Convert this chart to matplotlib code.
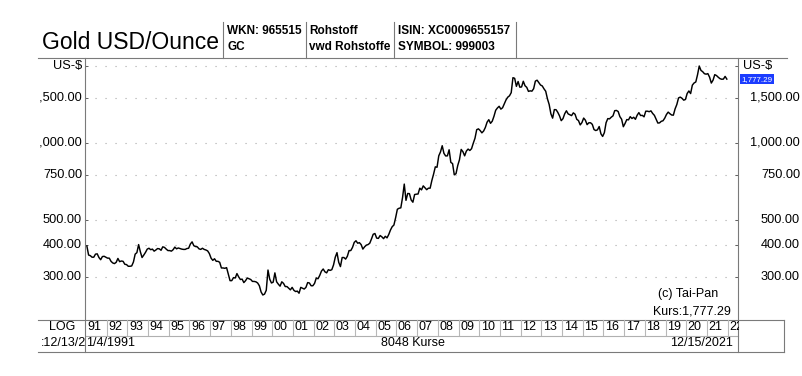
import matplotlib
matplotlib.use("Agg")
import matplotlib.pyplot as plt
import matplotlib.transforms as mtransforms
from matplotlib.lines import Line2D
import numpy as np

plt.rcParams['font.family'] = ['Liberation Sans', 'DejaVu Sans']

# ---------------- data (monthly gold price, USD/oz) ----------------
gold_1991 = [395, 364, 362, 357, 357, 367, 368, 356, 349, 359, 360, 357]
gold_1992 = [354, 354, 344, 339, 337, 341, 353, 343, 345, 344, 335, 334]
gold_1993 = [329, 329, 330, 342, 367, 372, 400, 375, 356, 364, 373, 384]
gold_1994 = [387, 382, 384, 377, 381, 386, 385, 380, 392, 390, 384, 379]
gold_1995 = [379, 377, 382, 391, 385, 388, 386, 384, 383, 383, 386, 387]
gold_1996 = [402, 410, 396, 393, 392, 385, 383, 387, 383, 381, 378, 369]
gold_1997 = [354, 347, 352, 344, 344, 341, 324, 324, 323, 325, 306, 289]
gold_1998 = [289, 297, 296, 308, 299, 292, 293, 284, 289, 296, 294, 292]
gold_1999 = [287, 287, 286, 283, 276, 261, 254, 256, 265, 318, 293, 283]
gold_2000 = [285, 310, 286, 280, 275, 286, 282, 274, 274, 270, 266, 272]
gold_2001 = [265, 262, 263, 258, 272, 270, 268, 272, 284, 283, 276, 276]
gold_2002 = [282, 296, 294, 303, 315, 321, 313, 310, 319, 317, 319, 333]
gold_2003 = [357, 372, 341, 328, 356, 356, 351, 360, 379, 379, 390, 408]
gold_2004 = [414, 405, 407, 400, 384, 392, 398, 400, 405, 421, 439, 442]
gold_2005 = [424, 423, 434, 429, 422, 431, 425, 438, 456, 470, 477, 510]
gold_2006 = [550, 555, 557, 611, 690, 596, 634, 633, 598, 586, 628, 630]
gold_2007 = [631, 665, 655, 679, 667, 656, 665, 665, 713, 755, 806, 803]
gold_2008 = [890, 922, 975, 910, 889, 890, 940, 839, 830, 750, 758, 816]
gold_2009 = [859, 943, 924, 890, 929, 946, 934, 949, 997, 1043, 1127, 1135]
gold_2010 = [1118, 1095, 1113, 1149, 1205, 1233, 1193, 1216, 1271, 1342, 1370, 1391]
gold_2011 = [1356, 1373, 1424, 1474, 1510, 1529, 1573, 1800, 1790, 1665, 1739, 1652]
gold_2012 = [1656, 1743, 1674, 1650, 1591, 1599, 1594, 1630, 1745, 1760, 1722, 1685]
gold_2013 = [1671, 1628, 1593, 1488, 1414, 1300, 1250, 1350, 1349, 1317, 1276, 1222]
gold_2014 = [1244, 1300, 1336, 1299, 1289, 1279, 1311, 1295, 1237, 1223, 1176, 1201]
gold_2015 = [1251, 1227, 1179, 1199, 1199, 1182, 1128, 1118, 1125, 1159, 1086, 1060]
gold_2016 = [1097, 1200, 1245, 1242, 1261, 1276, 1337, 1340, 1327, 1267, 1238, 1157]
gold_2017 = [1192, 1234, 1231, 1267, 1246, 1260, 1237, 1283, 1314, 1280, 1282, 1265]
gold_2018 = [1331, 1331, 1325, 1335, 1304, 1282, 1238, 1196, 1198, 1215, 1221, 1250]
gold_2019 = [1292, 1320, 1301, 1286, 1284, 1359, 1413, 1500, 1511, 1495, 1470, 1479]
gold_2020 = [1561, 1597, 1560, 1683, 1716, 1732, 1847, 2000, 1922, 1900, 1866, 1858]
gold_2021 = [1867, 1808, 1715, 1760, 1850, 1835, 1808, 1785, 1775, 1777, 1821, 1777.29]

years = list(range(1991, 2022))
yearly = [gold_1991, gold_1992, gold_1993, gold_1994, gold_1995, gold_1996, gold_1997,
          gold_1998, gold_1999, gold_2000, gold_2001, gold_2002, gold_2003, gold_2004,
          gold_2005, gold_2006, gold_2007, gold_2008, gold_2009, gold_2010, gold_2011,
          gold_2012, gold_2013, gold_2014, gold_2015, gold_2016, gold_2017, gold_2018,
          gold_2019, gold_2020, gold_2021]

level_values = [2000, 1500, 1000, 750, 500, 400, 300]
left_labels = ["US-$", "1,500.00", "1,000.00", "750.00", "500.00", "400.00", "300.00"]
right_labels = ["US-$", "1,500.00", "1,000.00", "750.00", "500.00", "400.00", "300.00"]
year_labels = ["91", "92", "93", "94", "95", "96", "97", "98", "99", "00", "01", "02", "03",
               "04", "05", "06", "07", "08", "09", "10", "11", "12", "13", "14", "15", "16",
               "17", "18", "19", "20", "21", "22"]
last_price = 1777.29
title = "Gold USD/Ounce"
header_row1 = ["WKN: 965515", "Rohstoff", "ISIN: XC0009655157"]
header_row2 = ["GC", "vwd Rohstoffe", "SYMBOL: 999003"]

# ---------------- layout ----------------
W, H = 803, 376
fig = plt.figure(figsize=(W / 100, H / 100), dpi=100)
fig.patch.set_facecolor("white")

def fx(px):
    return px / W

def fy(py):
    return 1 - py / H

AX_L, AX_R, AX_T, AX_B = 85.5, 738.5, 58, 319
ax = fig.add_axes([fx(AX_L), fy(AX_B), fx(AX_R) - fx(AX_L), fy(AX_T) - fy(AX_B)])

xs, ys = [], []
for yr, vals in zip(years, yearly):
    for m, v in enumerate(vals):
        xs.append(yr + (m + 0.5) / 12.0)
        ys.append(v)

ax.plot(xs, ys, color="black", lw=1.05)
ax.set_yscale("log")
PXYR = 20.7
ax.set_xlim(1991 + (AX_L - 86) / PXYR, 1991 + (AX_R - 86) / PXYR)
ax.set_ylim(2000 * 10 ** (-(AX_B - 66) / 255.5), 2000 * 10 ** ((66 - AX_T) / 255.5))
for s in ax.spines.values():
    s.set_visible(False)
ax.set_xticks([])
ax.yaxis.set_minor_locator(matplotlib.ticker.NullLocator())
ax.set_yticks(level_values)
ax.set_yticklabels([])
ax.tick_params(axis="y", which="major", direction="in", length=2.5, width=0.7,
               color="#606060", left=True, right=True, labelleft=False, labelright=False)
ax.yaxis.grid(True, linestyle=(0, (1, 8)), color="#a8a8a8", lw=0.8)

# ---------------- frame lines ----------------
GRAY = "#7a7a7a"
def hline(y, x0, x1, color=GRAY, lw=0.8):
    fig.add_artist(Line2D([fx(x0), fx(x1)], [fy(y), fy(y)], color=color, lw=lw))

def vline(x, y0, y1, color=GRAY, lw=0.8):
    fig.add_artist(Line2D([fx(x), fx(x)], [fy(y0), fy(y1)], color=color, lw=lw))

hline(57.5, 38, 787)          # top of chart
hline(319.5, 38, 784)         # top of year row
hline(335.5, 86, 738, color="#b0b0b0")
hline(351.5, 38, 784)         # bottom
vline(AX_L, 57.5, 351.5)
vline(AX_R, 57.5, 351.5)
vline(784, 319.5, 351.5)
for xh in [223.5, 305.5, 394.5, 516.5]:
    vline(xh, 22, 57.5)

# ---------------- header ----------------
fig.text(fx(42), fy(40), title, fontsize=16.5, ha="left", va="center_baseline")
hx = [227.5, 309, 398]
for x, t1, t2 in zip(hx, header_row1, header_row2):
    fig.text(fx(x), fy(31), t1, fontsize=8.5, fontweight="bold", ha="left", va="center")
    fig.text(fx(x), fy(47.5), t2, fontsize=8.5, fontweight="bold", ha="left", va="center")

# ---------------- axis labels ----------------
trans = mtransforms.blended_transform_factory(fig.transFigure, ax.transData)
clip = mtransforms.Bbox.from_extents(38.5, 0, 803, 376)
for v, lab in zip(level_values, left_labels):
    t = fig.text(fx(82), v, lab, transform=trans, fontsize=9.2, ha="right", va="center")
    t.set_clip_on(True)
    t.set_clip_box(clip)
for v, lab in zip(level_values, right_labels):
    if lab == "US-$":
        fig.text(fx(743), v, lab, transform=trans, fontsize=9.2, ha="left", va="center")
    else:
        fig.text(fx(800), v, lab, transform=trans, fontsize=9.2, ha="right", va="center")

fig.text(fx(741.5), last_price, "{:,.2f}".format(last_price), transform=trans,
         fontsize=5.8, color="white", ha="left", va="center",
         bbox=dict(boxstyle="square,pad=0.15", fc="#1b3cff", ec="none"))

# ---------------- bottom rows ----------------
fig.text(fx(62), fy(327.5), "LOG", fontsize=9, ha="center", va="center")
yclip = mtransforms.Bbox.from_extents(0, 0, AX_R, 376)
for k, lab in enumerate(year_labels):
    x0 = 86 + k * PXYR
    if k > 0:
        vline(x0, 320, 335, color="#b8b8b8", lw=0.8)
    t = fig.text(fx(x0 + 1.5), fy(327.5), lab, fontsize=9, ha="left", va="center")
    t.set_clip_on(True)
    t.set_clip_box(yclip)

t = fig.text(fx(86.5), fy(343.5), ":12/13/2", fontsize=9, ha="right", va="center")
t.set_clip_on(True)
t.set_clip_box(clip)
fig.text(fx(86.5), fy(343.5), "1/4/1991", fontsize=9, ha="left", va="center")
fig.text(fx(413), fy(343.5), "8048 Kurse", fontsize=9, ha="center", va="center")
fig.text(fx(733), fy(343.5), "12/15/2021", fontsize=9, ha="right", va="center")

fig.text(fx(718), fy(293.5), "(c) Tai-Pan", fontsize=9, ha="right", va="center")
fig.text(fx(731), fy(311), "Kurs:{:,.2f}".format(last_price), fontsize=9, ha="right", va="center")

fig.savefig("out.png", dpi=100, facecolor="white")
